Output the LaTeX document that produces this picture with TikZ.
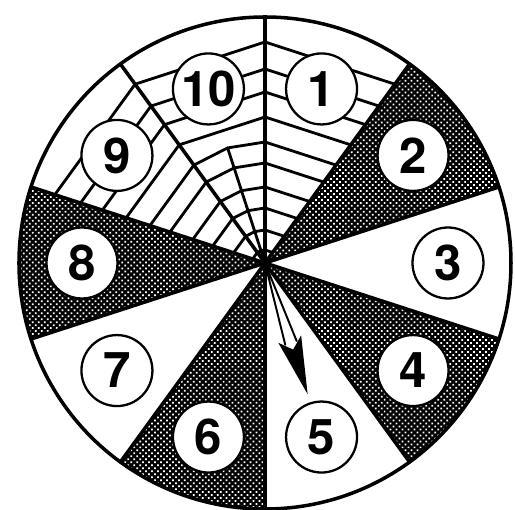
\documentclass[tikz,border=0pt]{standalone}
\usepackage{fontspec}
\setmainfont{TeX Gyre Heros}
\usetikzlibrary{patterns.meta}
\tikzset{
	numcirc/.style={circle,draw,line width=1.3pt,fill=white,minimum size=1.42cm,inner sep=0pt,font=\fontsize{28}{28}\selectfont\bfseries},
	dotfill/.style={pattern={Dots[distance=2.4pt,radius=0.7pt,angle=45]},pattern color=white},
	web/.style={line width=1.6pt},
	spoke/.style={line width=2pt}
}
\begin{document}
\begin{tikzpicture}[x=0.02cm,y=0.02cm,line join=round,line cap=round]
	\def \R{246}
	\useasboundingbox (-265,-247) rectangle (250,263);
	\foreach \a in {18,-54,-126,162}{
		\fill[black] (0,0) -- (\a:\R) arc[start angle=\a,end angle=\a+36,radius=\R] -- cycle;
		\fill[dotfill] (0,0) -- (\a:\R) arc[start angle=\a,end angle=\a+36,radius=\R] -- cycle;
	}
	\foreach \r in {13,33,55,76,100,121}
		\draw[web] (54:\r) -- (90:\r) -- (108:\r) -- (126:\r) -- (162:\r);
	\foreach \r in {146,171,194,221}
		\draw[web] (54:\r) -- (90:\r) -- (126:\r) -- (162:\r);
	\draw[web] (0,0) -- (108:121);
	\foreach \k in {0,...,9}
		\draw[spoke] (0,0) -- (90-36*\k:\R);
	\draw[spoke] (0,0) circle (\R);
	\foreach \n in {1,...,10}
		\node[numcirc] (c\n) at (108-36*\n:183) {\n};
	\begin{scope}[rotate=-72]
		\draw[line width=1.1pt] (0,0) -- (84,6) (0,0) -- (84,-6);
		\fill (80,12) -- (138,0) -- (80,-12) -- (91,0) -- cycle;
	\end{scope}
\end{tikzpicture}
\end{document}
